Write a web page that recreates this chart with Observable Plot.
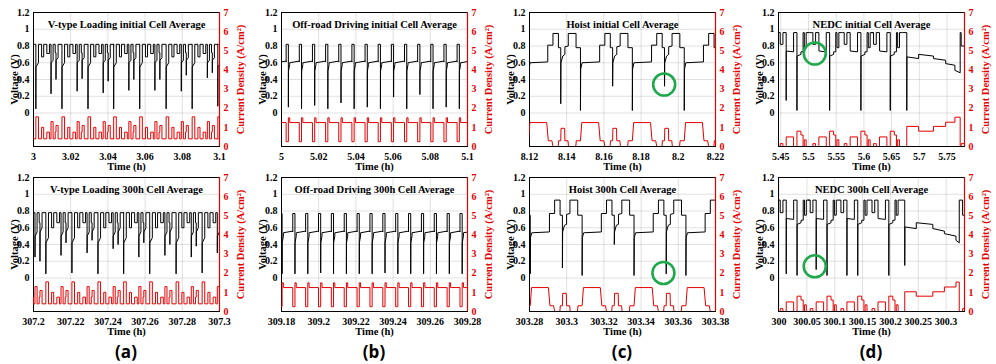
<!DOCTYPE html>
<html><head><meta charset="utf-8">
<script src="https://cdn.jsdelivr.net/npm/d3@7"></script>
<script src="https://cdn.jsdelivr.net/npm/@observablehq/plot@0.6"></script>
<style>
body{margin:0;background:#fff;}
#root{position:relative;width:996px;height:364px;overflow:hidden;background:#fff;}
.layer{position:absolute;}
.lab{position:absolute;top:340px;font-family:"Open Sans","Noto Sans",sans-serif;font-weight:700;font-size:17px;transform:translateX(-50%);line-height:24px;}
</style></head><body><div id="root"></div>
<script>
// ---------------- data ----------------
const voltTicks = [0, 0.2, 0.4, 0.6, 0.8, 1, 1.2];
const currTicks = [0, 1, 2, 3, 4, 5, 6, 7];
const panelLabels = ["(a)", "(b)", "(c)", "(d)"];

const titles = [
  ["V-type Loading initial Cell Average", "V-type Loading 300h Cell Average"],
  ["Off-road Driving initial Cell Average", "Off-road Driving 300h Cell Average"],
  ["Hoist initial Cell Average", "Hoist 300h Cell Average"],
  ["NEDC initial Cell Average", "NEDC 300h Cell Average"]
];

// x domains and tick labels
const domA1 = [3, 3.1],         ticksA1 = [3, 3.02, 3.04, 3.06, 3.08, 3.1];
const domA2 = [307.2, 307.3],   ticksA2 = [307.2, 307.22, 307.24, 307.26, 307.28, 307.3];
const domB1 = [5, 5.1],         ticksB1 = [5, 5.02, 5.04, 5.06, 5.08, 5.1];
const domB2 = [309.18, 309.28], ticksB2 = [309.18, 309.2, 309.22, 309.24, 309.26, 309.28];
const domC1 = [8.12, 8.22],     ticksC1 = [8.12, 8.14, 8.16, 8.18, 8.2, 8.22];
const domC2 = [303.28, 303.38], ticksC2 = [303.28, 303.3, 303.32, 303.34, 303.36, 303.38];
const domD1 = [5.4458, 5.7816], ticksD1 = [5.45, 5.5, 5.55, 5.6, 5.65, 5.7, 5.75];
const domD2 = [299.999, 300.333], ticksD2 = [300, 300.05, 300.1, 300.15, 300.2, 300.25, 300.3];

// ---- (a) V-type loading: one load cycle [fraction of period, value]; strings = per-cycle dip minima
const vtypePeriod = 0.01407;
const vtypeCurrent = [[0,0.4],[0,1.55],[0.10,1.55],[0.10,0.4],[0.22,0.4],[0.22,1.0],[0.30,1.0],[0.30,0.4],[0.42,0.4],[0.42,0.75],[0.52,0.75],[0.52,0.4],[0.58,0.4],[0.58,1.3],[0.66,1.3],[0.66,0.4],[0.74,0.4],[0.74,0.75],[0.77,0.75],[0.77,1.1],[0.85,1.1],[0.85,0.4],[1,0.4]];
const vtypeVoltInit = [[0,0.82],[0,"deep"],[0.004,0.55],[0.10,0.60],[0.10,0.82],[0.22,0.82],[0.22,0.67],[0.30,0.67],[0.30,0.82],[0.42,0.82],[0.42,0.71],[0.52,0.71],[0.52,0.82],[0.58,0.82],[0.58,"a"],[0.584,0.60],[0.66,0.63],[0.66,0.82],[0.74,0.82],[0.74,0.72],[0.77,0.72],[0.77,"b"],[0.774,0.63],[0.85,0.66],[0.85,0.82],[1,0.82]];
const vtypeVolt300 = [[0,0.78],[0,"deep"],[0.004,0.42],[0.10,0.48],[0.10,0.78],[0.22,0.78],[0.22,0.60],[0.30,0.60],[0.30,0.78],[0.42,0.78],[0.42,0.66],[0.52,0.66],[0.52,0.78],[0.58,0.78],[0.58,"a"],[0.584,0.50],[0.66,0.55],[0.66,0.78],[0.74,0.78],[0.74,0.66],[0.77,0.66],[0.77,"b"],[0.774,0.55],[0.85,0.60],[0.85,0.78],[1,0.78]];
const vtypeStartsInit = [2.98726, 3.00126, 3.0153, 3.0293, 3.0431, 3.0571, 3.0713, 3.0853, 3.0991];
const vtypeDeepInit = [0.05, 0.05, 0.05, 0.05, 0.05, 0.05, 0.05, 0.05, 0.08];
const vtypeDipAInit = [0.30, 0.23, 0.26, 0.24, 0.27, 0.27, 0.26, 0.42, 0.30];
const vtypeDipBInit = [0.45, 0.40, 0.41, 0.38, 0.40, 0.40, 0.45, 0.48, 0.40];
const vtypeStarts300 = [307.19264, 307.20664, 307.22065, 307.23465, 307.24847, 307.26248, 307.27666, 307.29066];
const vtypeDeep300 = [0.05, 0.05, 0.06, 0.05, 0.05, 0.05, 0.05, 0.06];
const vtypeDipA300 = [0.25, 0.27, 0.30, 0.35, 0.25, 0.27, 0.25, 0.30];
const vtypeDipB300 = [0.20, 0.42, 0.45, 0.40, 0.42, 0.40, 0.38, 0.20];

// ---- (b) Off-road driving
const offPeriodInit = 0.00707, offPeriod300 = 0.006916;
const offCurrent = [[0,1.25],[0,0.25],[0.17,0.25],[0.17,1.5],[0.27,1.5],[0.27,1.25],[1,1.25]];
const offVoltInit = [[0,0.61],[0,0.82],[0.17,0.82],[0.17,"deep"],[0.176,0.50],[0.27,0.58],[0.27,0.60],[1,0.62]];
const offVolt300 = [[0,0.55],[0,0.77],[0.17,0.77],[0.17,"deep"],[0.176,0.42],[0.27,0.50],[0.27,0.54],[1,0.56]];
const offStartsInit = [4.99543, 5.0025, 5.00957, 5.01664, 5.02371, 5.03078, 5.03785, 5.04492, 5.05199, 5.05906, 5.06613, 5.0732, 5.08027, 5.08734, 5.09441];
const offDeepInit = [0.06, 0.07, 0.05, 0.09, 0.05, 0.12, 0.05, 0.07, 0.05, 0.19, 0.05, 0.22, 0.05, 0.07, 0.05];
const offStarts300 = [309.17914, 309.18606, 309.19297, 309.19989, 309.2068, 309.21372, 309.22064, 309.22755, 309.23447, 309.24138, 309.2483, 309.25522, 309.26213, 309.26905, 309.27596];
const offDeep300 = [0.05, 0.05, 0.05, 0.06, 0.05, 0.05, 0.05, 0.05, 0.06, 0.05, 0.05, 0.05, 0.05, 0.05, 0.05];

// ---- (c) Hoist
const hoistPeriod = 0.0279;
const hoistCurrent = [[0,0.3],[0.025,1.25],[0.35,1.25],[0.38,0.3],[0.45,0.3],[0.47,0],[0.57,0],[0.58,0.3],[0.62,0.3],[0.625,0.95],[0.695,0.95],[0.70,0.3],[0.76,0.3],[0.77,0],[0.91,0],[0.92,0.3],[1,0.3]];
const hoistVoltInit = [[0,0.78],[0,"deep"],[0.004,0.52],[0.03,0.60],[0.37,0.61],[0.37,0.81],[0.47,0.81],[0.47,0.95],[0.575,0.95],[0.575,0.78],[0.62,0.78],[0.62,"small"],[0.624,0.60],[0.66,0.68],[0.70,0.70],[0.70,0.79],[0.765,0.80],[0.765,0.95],[0.915,0.95],[0.915,0.78],[1,0.78]];
const hoistVolt300 = [[0,0.75],[0,"deep"],[0.004,0.48],[0.03,0.54],[0.37,0.55],[0.37,0.77],[0.47,0.77],[0.47,0.93],[0.575,0.93],[0.575,0.75],[0.62,0.75],[0.62,"small"],[0.624,0.55],[0.66,0.63],[0.70,0.64],[0.70,0.76],[0.765,0.77],[0.765,0.93],[0.915,0.93],[0.915,0.75],[1,0.75]];
const hoistStartsInit = [8.0916, 8.1195, 8.1474, 8.1753, 8.2032];
const hoistDeepInit = [0.03, 0.03, 0.03, 0.03, 0.03];
const hoistSmallInit = [0.30, 0.11, 0.32, 0.32, 0.30];
const hoistStarts300 = [303.2525, 303.2804, 303.3083, 303.3362, 303.3641];
const hoistDeep300 = [0.03, 0.05, 0.03, 0.03, 0.03];
const hoistSmall300 = [0.30, 0.12, 0.40, 0.05, 0.30];

// ---- (d) NEDC: four urban (ECE) cycles + extra-urban part
const ecePeriod = 0.0555;
const eceCurrent = [[0,0],[0.056,0],[0.056,0.15],[0.144,0.15],[0.144,0],[0.25,0],[0.25,0.5],[0.49,0.5],[0.49,0],[0.60,0],[0.60,0.8],[0.73,0.8],[0.73,0.6],[0.80,0.6],[0.80,0],[0.84,0],[0.84,0.35],[0.90,0.35],[0.90,0],[1,0]];
const eceVoltInit = [[0,0.96],[0.056,0.96],[0.056,0.82],[0.144,0.82],[0.144,0.96],[0.25,0.96],[0.25,"d1"],[0.253,0.74],[0.49,0.73],[0.49,0.96],[0.60,0.96],[0.60,"d2"],[0.603,0.68],[0.73,0.70],[0.73,0.73],[0.80,0.73],[0.80,0.96],[0.84,0.96],[0.84,0.78],[0.90,0.78],[0.90,0.96],[1,0.96]];
const eceVolt300 = [[0,0.93],[0.056,0.93],[0.056,0.78],[0.144,0.78],[0.144,0.93],[0.25,0.93],[0.25,"d1"],[0.253,0.71],[0.49,0.70],[0.49,0.93],[0.60,0.93],[0.60,"d2"],[0.603,0.64],[0.73,0.66],[0.73,0.69],[0.80,0.69],[0.80,0.93],[0.84,0.93],[0.84,0.75],[0.90,0.75],[0.90,0.93],[1,0.93]];
const eceStartsInit = [5.4458, 5.5048, 5.5613, 5.6143];
const eceD1Init = [0.15, null, null, null];
const eceD2Init = [0.03, 0.03, 0.03, 0.03];
const eceStarts300 = [299.999, 300.0528, 300.108, 300.1638];
const eceD1300 = [0.05, 0.10, 0.03, null];
const eceD2300 = [0.03, 0.03, 0.03, 0.03];
// extra-urban part, [time (h), value]
const eudcCurrentInit = [[5.6774,0],[5.6774,1.05],[5.6988,1.05],[5.6988,0.8],[5.7256,0.8],[5.7256,1.05],[5.7476,1.05],[5.7476,1.27],[5.7643,1.27],[5.7643,1.53],[5.7738,1.53],[5.7738,0],[5.7756,0],[5.7756,0.15],[5.7816,0.15]];
const eudcVoltInit = [[5.6774,0.96],[5.6774,0.03],[5.6777,0.67],[5.6988,0.65],[5.6988,0.70],[5.7256,0.68],[5.7256,0.65],[5.7476,0.63],[5.7476,0.59],[5.7643,0.57],[5.7643,0.51],[5.7738,0.48],[5.7738,0.96],[5.7756,0.96],[5.7756,0.80],[5.7816,0.80]];
const eudcCurrent300 = [[300.2257,0],[300.2257,1.03],[300.2464,1.03],[300.2464,0.8],[300.2761,0.8],[300.2761,1.03],[300.2969,1.03],[300.2969,1.28],[300.3177,1.28],[300.3177,1.54],[300.3236,1.54],[300.3236,0],[300.3296,0],[300.3296,0.15],[300.333,0.15]];
const eudcVolt300 = [[300.2257,0.93],[300.2257,0.15],[300.226,0.61],[300.2464,0.59],[300.2464,0.66],[300.2761,0.64],[300.2761,0.59],[300.2969,0.56],[300.2969,0.53],[300.3177,0.50],[300.3177,0.45],[300.3236,0.42],[300.3236,0.93],[300.3296,0.93],[300.3296,0.75],[300.333,0.75]];

// highlighted points (green circles) [time, voltage]
const circleC1 = [[8.1924, 0.34]];
const circleC2 = [[303.352, 0.06]];
const circleD1 = [[5.5113, 0.71]];
const circleD2 = [[300.0641, 0.14]];

// ---------------- build ----------------
function cycles(starts, period, template, dips) {
  const out = [];
  starts.forEach((s, k) => {
    for (const [f, v] of template) {
      let val = v;
      if (typeof v === "string") { val = dips[v][k]; if (val == null) continue; }
      out.push({t: s + f * period, v: val});
    }
  });
  return out;
}
const pairs = arr => arr.map(([t, v]) => ({t, v}));

const panels = [
  {col:0,row:0,dom:domA1,ticks:ticksA1,title:titles[0][0],
   volt:cycles(vtypeStartsInit,vtypePeriod,vtypeVoltInit,{deep:vtypeDeepInit,a:vtypeDipAInit,b:vtypeDipBInit}),
   curr:cycles(vtypeStartsInit,vtypePeriod,vtypeCurrent,{})},
  {col:0,row:1,dom:domA2,ticks:ticksA2,title:titles[0][1],
   volt:cycles(vtypeStarts300,vtypePeriod,vtypeVolt300,{deep:vtypeDeep300,a:vtypeDipA300,b:vtypeDipB300}),
   curr:cycles(vtypeStarts300,vtypePeriod,vtypeCurrent,{})},
  {col:1,row:0,dom:domB1,ticks:ticksB1,title:titles[1][0],
   volt:cycles(offStartsInit,offPeriodInit,offVoltInit,{deep:offDeepInit}),
   curr:cycles(offStartsInit,offPeriodInit,offCurrent,{})},
  {col:1,row:1,dom:domB2,ticks:ticksB2,title:titles[1][1],
   volt:cycles(offStarts300,offPeriod300,offVolt300,{deep:offDeep300}),
   curr:cycles(offStarts300,offPeriod300,offCurrent,{})},
  {col:2,row:0,dom:domC1,ticks:ticksC1,title:titles[2][0],circle:circleC1,
   volt:cycles(hoistStartsInit,hoistPeriod,hoistVoltInit,{deep:hoistDeepInit,small:hoistSmallInit}),
   curr:cycles(hoistStartsInit,hoistPeriod,hoistCurrent,{})},
  {col:2,row:1,dom:domC2,ticks:ticksC2,title:titles[2][1],circle:circleC2,
   volt:cycles(hoistStarts300,hoistPeriod,hoistVolt300,{deep:hoistDeep300,small:hoistSmall300}),
   curr:cycles(hoistStarts300,hoistPeriod,hoistCurrent,{})},
  {col:3,row:0,dom:domD1,ticks:ticksD1,title:titles[3][0],circle:circleD1,
   volt:cycles(eceStartsInit,ecePeriod,eceVoltInit,{d1:eceD1Init,d2:eceD2Init}).concat(pairs(eudcVoltInit)),
   curr:cycles(eceStartsInit,ecePeriod,eceCurrent,{}).concat(pairs(eudcCurrentInit))},
  {col:3,row:1,dom:domD2,ticks:ticksD2,title:titles[3][1],circle:circleD2,
   volt:cycles(eceStarts300,ecePeriod,eceVolt300,{d1:eceD1300,d2:eceD2300}).concat(pairs(eudcVolt300)),
   curr:cycles(eceStarts300,ecePeriod,eceCurrent,{}).concat(pairs(eudcCurrent300))}
];

const root = document.getElementById("root");
const RED = "#e50000";
const FONT = "'Liberation Serif','Times New Roman',serif";
const W = 248, H = 175;
const colLeft = [0, 248, 496, 745];
const rowTop = [0, 165];
const fmtX = d3.format("~f");
const fmtV = d3.format("~g");

for (const p of panels) {
  const common = {
    width: W, height: H, marginLeft: 33, marginRight: 29, marginTop: 12, marginBottom: 29,
    style: {background: "transparent", overflow: "visible", fontFamily: FONT, fontWeight: "bold", fontSize: "10px"}
  };
  const txt = {text: d => d, fontSize: 10.5, fontWeight: "bold", lineAnchor: "middle", textAnchor: "middle"};
  const vMarks = [
    Plot.gridX(p.ticks, {stroke: "#000", strokeOpacity: 0.12}),
    Plot.gridY(voltTicks, {stroke: "#000", strokeOpacity: 0.12}),
    Plot.axisX(p.ticks, {tickSize: 0, tickPadding: 6, tickFormat: fmtX, label: null}),
    Plot.axisY(voltTicks, {tickSize: 0, tickPadding: 4, tickFormat: fmtV, label: null}),
    Plot.line(p.volt, {x: "t", y: "v", stroke: "#000", strokeWidth: 1, clip: true}),
    Plot.text([p.title], {...txt, frameAnchor: "top", dy: 12}),
    Plot.text(["Time (h)"], {...txt, frameAnchor: "bottom", dy: 20}),
    Plot.text(["Voltage (V)"], {...txt, frameAnchor: "left", dx: -19, rotate: -90}),
    Plot.frame({stroke: "#000", strokeWidth: 1})
  ];
  if (p.circle) vMarks.push(Plot.dot(p.circle, {x: d => d[0], y: d => d[1], r: 11, stroke: "#1fa84c", strokeWidth: 2.6, fill: "none"}));
  const vPlot = Plot.plot({...common, x: {domain: p.dom}, y: {domain: [-0.4, 1.2]}, marks: vMarks});

  const cPlot = Plot.plot({...common, x: {domain: p.dom, axis: null}, y: {domain: [0, 7]},
    marks: [
      Plot.axisY(currTicks, {anchor: "right", tickSize: 0, tickPadding: 4, color: RED, label: null}),
      Plot.line(p.curr, {x: "t", y: "v", stroke: RED, strokeWidth: 1, clip: true}),
      Plot.ruleX([p.dom[1]], {stroke: RED, strokeWidth: 1.2}),
      Plot.text(["Current Density (A/cm²)"], {...txt, frameAnchor: "right", dx: 21, rotate: -90, fill: RED})
    ]});

  for (const el of [vPlot, cPlot]) {
    el.classList.add("layer");
    el.style.left = colLeft[p.col] + "px";
    el.style.top = rowTop[p.row] + "px";
    root.appendChild(el);
  }
}

panelLabels.forEach((t, i) => {
  const d = document.createElement("div");
  d.className = "lab";
  d.textContent = t;
  d.style.left = (colLeft[i] + 33 + 93) + "px";
  root.appendChild(d);
});
</script>
</body></html>
